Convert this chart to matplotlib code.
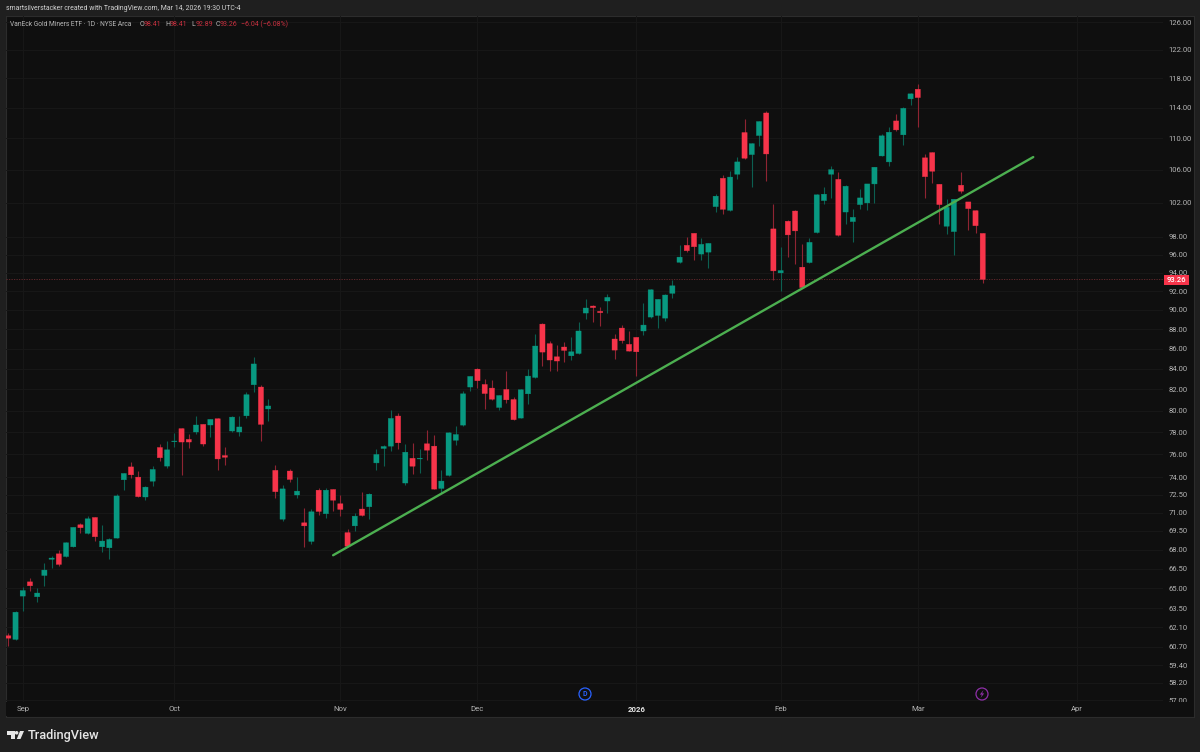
import matplotlib
matplotlib.use("Agg")
import matplotlib.pyplot as plt
from matplotlib.patches import Circle, Polygon, Rectangle
from matplotlib.ticker import NullLocator

plt.rcParams['font.family'] = ['Roboto', 'DejaVu Sans']

# --- daily candles ---
opens = [61.48, 61.22, 64.40, 65.48, 64.35, 65.97, 67.23, 67.66, 67.45, 68.22,
         70.00, 69.30, 70.60, 68.22, 68.14, 68.92, 73.78, 74.90, 74.01, 72.31,
         73.66, 76.62, 74.97, 77.14, 78.33, 77.35, 78.02, 78.72, 78.66, 79.24,
         75.90, 78.11, 78.02, 79.51, 82.45, 82.23, 80.15, 74.60, 70.46, 74.54,
         72.48, 70.16, 68.65, 72.89, 70.91, 72.95, 71.74, 69.36, 69.91, 71.30,
         71.49, 75.25, 76.53, 76.74, 79.49, 73.50, 75.66, 75.60, 76.95, 76.74,
         73.04, 74.16, 77.27, 78.65, 82.23, 83.97, 82.48, 82.13, 80.29, 82.00,
         81.04, 79.30, 81.58, 83.16, 88.51, 86.51, 85.19, 86.17, 85.29, 85.52,
         89.66, 90.40, 89.84, 90.93, 86.98, 88.10, 86.44, 87.15, 87.80, 89.24,
         89.41, 89.13, 91.75, 95.14, 97.05, 98.42, 96.06, 96.28, 101.54, 104.96,
         101.10, 105.46, 110.73, 107.91, 110.34, 113.29, 98.93, 93.97, 99.82, 101.02,
         94.60, 95.11, 98.51, 102.26, 105.46, 104.83, 100.90, 99.78, 101.78, 101.98,
         104.27, 107.74, 106.99, 112.24, 110.43, 115.17, 116.48, 107.50, 108.16, 104.23,
         99.24, 98.62, 104.11, 102.10, 101.06, 98.41]
highs = [61.65, 63.27, 65.07, 65.80, 64.98, 66.91, 67.48, 68.00, 68.62, 69.84,
         70.16, 70.76, 70.68, 69.97, 68.90, 72.56, 74.33, 75.30, 74.50, 73.24,
         74.94, 76.92, 77.20, 77.97, 78.36, 77.84, 79.50, 78.75, 79.21, 79.33,
         76.65, 79.48, 79.48, 81.76, 85.14, 82.42, 81.06, 75.03, 73.35, 74.70,
         74.04, 71.41, 71.27, 73.04, 73.09, 73.01, 72.46, 69.63, 70.93, 72.75,
         72.61, 76.50, 76.83, 80.02, 79.74, 76.89, 76.98, 76.50, 78.18, 77.73,
         74.67, 78.00, 78.55, 81.84, 83.32, 84.04, 82.97, 82.90, 81.48, 83.74,
         81.26, 82.07, 83.97, 87.44, 88.60, 86.78, 86.34, 86.68, 87.22, 88.72,
         91.11, 90.47, 90.26, 91.67, 87.49, 88.41, 87.76, 87.19, 90.68, 92.23,
         91.18, 91.64, 93.19, 97.05, 97.97, 98.46, 97.89, 97.35, 103.07, 105.37,
         105.87, 107.62, 112.50, 109.39, 112.24, 113.51, 101.90, 96.89, 100.01, 101.10,
         97.24, 97.93, 103.03, 103.87, 106.53, 105.79, 104.11, 101.22, 103.71, 104.31,
         106.41, 110.60, 111.51, 113.15, 114.09, 115.94, 117.20, 107.99, 108.24, 104.27,
         102.50, 102.50, 105.71, 102.14, 101.14, 98.41]
lows = [60.74, 61.17, 63.27, 64.75, 63.95, 65.15, 66.52, 66.70, 67.40, 68.17,
        69.30, 69.22, 68.70, 67.82, 67.25, 68.89, 72.87, 73.90, 72.31, 72.05,
        73.26, 75.44, 74.82, 76.65, 74.18, 76.60, 77.84, 76.75, 77.60, 74.60,
        75.08, 78.02, 77.66, 79.30, 81.76, 77.20, 79.04, 72.20, 70.33, 73.63,
        72.20, 68.19, 68.46, 70.77, 70.57, 71.16, 70.74, 68.24, 69.50, 70.71,
        70.49, 74.64, 74.99, 76.32, 76.47, 73.33, 74.24, 74.39, 75.55, 72.95,
        72.61, 74.10, 76.86, 78.58, 81.84, 82.13, 80.14, 80.98, 80.05, 80.73,
        79.12, 79.27, 80.60, 83.13, 84.28, 83.75, 83.75, 84.67, 84.87, 85.49,
        89.06, 88.72, 88.31, 89.70, 84.93, 86.61, 85.73, 83.29, 87.36, 89.10,
        88.14, 88.85, 91.29, 95.06, 96.24, 95.39, 95.36, 94.47, 100.94, 100.62,
        101.06, 104.87, 107.41, 103.95, 109.04, 104.67, 93.15, 92.00, 95.70, 95.00,
        92.34, 95.07, 98.47, 101.86, 102.54, 98.16, 99.55, 97.43, 101.30, 101.14,
        102.02, 107.70, 106.49, 110.99, 109.13, 114.37, 111.42, 102.62, 104.35, 99.55,
        98.31, 96.00, 103.19, 98.85, 98.43, 92.89]
closes = [61.31, 63.20, 64.82, 65.18, 64.63, 66.39, 67.33, 66.83, 68.54, 69.79,
          69.76, 70.49, 69.03, 68.68, 68.81, 72.40, 74.33, 74.21, 72.34, 73.15,
          74.68, 75.71, 76.41, 77.20, 77.11, 77.11, 78.66, 76.93, 79.18, 75.60,
          75.75, 79.39, 78.48, 81.50, 84.48, 78.72, 80.43, 72.76, 73.00, 73.81,
          72.81, 69.91, 71.07, 71.10, 72.89, 72.04, 71.27, 68.27, 70.71, 70.77,
          72.55, 76.00, 76.71, 79.27, 77.04, 76.20, 74.96, 75.66, 76.38, 72.98,
          73.67, 77.94, 77.79, 81.58, 83.26, 82.84, 81.61, 81.07, 81.42, 81.01,
          79.15, 81.97, 83.29, 86.27, 85.66, 84.87, 84.77, 85.83, 85.69, 87.80,
          90.19, 90.23, 89.70, 91.32, 85.86, 86.81, 85.76, 85.69, 88.41, 92.13,
          91.11, 91.57, 92.56, 95.72, 96.44, 96.89, 97.16, 97.27, 102.79, 101.22,
          105.11, 106.99, 107.45, 109.30, 112.16, 107.99, 94.19, 94.23, 98.24, 98.70,
          92.37, 97.39, 102.95, 103.03, 106.03, 98.20, 103.99, 100.28, 102.58, 104.27,
          106.33, 110.30, 110.77, 111.07, 113.91, 115.85, 115.35, 105.16, 105.83, 101.78,
          101.46, 102.42, 103.39, 101.30, 99.30, 93.26]

# trendline end points (bar number, price)
trend_x = [45, 142]
trend_y = [67.55, 107.6]

last_price = 93.26

price_ticks = [126, 122, 118, 114, 110, 106, 102, 98, 96, 94, 92, 90, 88, 86, 84, 82, 80,
               78, 76, 74, 72.5, 71, 69.5, 68, 66.5, 65, 63.5, 62.1, 60.7, 59.4, 58.2, 57]
month_pos = [2, 23, 46, 65, 87, 107, 126, 148]
month_labels = ["Sep", "Oct", "Nov", "Dec", "2026", "Feb", "Mar", "Apr"]

W, H = 1200, 752
BORDER = "#1f1f1f"
PANE = "#0f0f0f"
GRID = "#181818"
UP = "#089981"
DOWN = "#f7344a"
UP_WICK = "#0c5f51"
DOWN_WICK = "#8f2433"
AXIS_TEXT = "#b4b4b4"


def px_axes(left, top, right, bottom, **kw):
    return fig.add_axes([left / W, 1 - bottom / H, (right - left) / W, (bottom - top) / H], **kw)


def bar_at(px):
    return (px - 8.3) / 7.218


fig = plt.figure(figsize=(W / 100, H / 100), dpi=100, facecolor=BORDER)

# --- pane behind everything ---
pane = px_axes(6, 16, 1194, 717, facecolor=PANE, zorder=0)
pane.set_xticks([])
pane.set_yticks([])
for s in pane.spines.values():
    s.set_color("#2c2c2c")
    s.set_linewidth(0.8)

# --- price chart ---
ax = px_axes(6, 16, 1163, 702, zorder=1)
ax.patch.set_alpha(0)
ax.set_yscale("log")
ax.set_xlim(bar_at(6), bar_at(1163))
ax.set_ylim(56.9, 126.89)
ax.yaxis.set_minor_locator(NullLocator())
ax.set_yticks(price_ticks)
ax.set_yticklabels([f"{p:.2f}" for p in price_ticks], fontsize=5.5, color=AXIS_TEXT)
ax.yaxis.tick_right()
ax.tick_params(axis="y", length=0, pad=4)
ax.set_xticks(month_pos)
ax.tick_params(axis="x", length=0, labelbottom=False)
ax.grid(True, color=GRID, linewidth=0.7)
ax.set_axisbelow(True)
for s in ax.spines.values():
    s.set_visible(False)

# candles
for i in range(len(opens)):
    up = closes[i] >= opens[i]
    ax.vlines(i, lows[i], highs[i], color=UP_WICK if up else DOWN_WICK, linewidth=0.8, zorder=2)
    ax.bar(i, abs(closes[i] - opens[i]), bottom=min(opens[i], closes[i]), width=0.72,
           color=UP if up else DOWN, edgecolor=UP if up else DOWN, linewidth=0.25, snap=False, zorder=3)

# last price line and trendline
ax.axhline(last_price, color="#6b2a30", linewidth=0.6, linestyle=(0, (1.5, 1.5)), zorder=1.5)
ax.plot(trend_x, trend_y, color="#4caf50", linewidth=1.7, solid_capstyle="round", zorder=4)

# --- time axis strip, hides the bottom of the 57.00 label ---
tax = px_axes(6, 702, 1193, 716, facecolor=PANE, zorder=2)
tax.set_xlim(bar_at(6), bar_at(1193))
tax.set_ylim(0, 1)
tax.set_xticks([])
tax.set_yticks([])
for s in tax.spines.values():
    s.set_visible(False)
for pos, lab in zip(month_pos, month_labels):
    bold = lab == "2026"
    tax.text(pos, 0.5, lab, ha="center", va="center", fontsize=5.6,
             color="#e6e6e6" if bold else AXIS_TEXT, fontweight="bold" if bold else "normal")

# --- last price tag ---
fig.add_artist(Rectangle((1164, H - 284.5), 24.5, 9.5, transform=None, facecolor=DOWN, edgecolor="none", zorder=5))
fig.text(1176.2 / W, 1 - 280 / H, f"{last_price:.2f}", ha="center", va="center", fontsize=5.5,
         color="white", fontweight="medium", zorder=6)

# --- header ---
fig.text(6 / W, 1 - 8.5 / H, "smartsilverstacker created with TradingView.com, Mar 14, 2026 19:30 UTC-4",
         fontsize=4.98, color="#d2d2d2", va="center", zorder=6)
GREY = "#b8b8b8"
RED = "#c7303f"
fig.text(10 / W, 1 - 24 / H, "VanEck Gold Miners ETF · 1D · NYSE Arca", fontsize=4.75, color=GREY, va="center", zorder=6)
header_bits = [(140, "O", GREY), (144, "98.41", RED),
               (165.7, "H", GREY), (170, "98.41", RED),
               (191, "L", GREY), (195.7, "92.89", RED),
               (216, "C", GREY), (220, "93.26", RED),
               (241, "−6.04 (−6.08%)", RED)]
for x, txt, col in header_bits:
    fig.text(x / W, 1 - 24 / H, txt, fontsize=5.05, color=col, va="center", zorder=6)

# --- event markers ---
fig.add_artist(Circle((585, H - 694), 6, transform=None, facecolor="none", edgecolor="#2962ff", linewidth=0.9, zorder=6))
fig.text(585 / W, 1 - 694 / H, "D", fontsize=5, color="#2962ff", ha="center", va="center", fontweight="bold", zorder=6)
fig.add_artist(Circle((982, H - 694), 6, transform=None, facecolor="none", edgecolor="#8e2fa8", linewidth=0.9, zorder=6))
fig.add_artist(Polygon([(983.5, H - 690), (979.8, H - 694.6), (981.9, H - 694.6), (980.5, H - 698), (984.2, H - 693.4), (982.1, H - 693.4)],
                       closed=True, transform=None, facecolor="#8e2fa8", edgecolor="none", zorder=6))

# --- TradingView logo ---
LOGO = "#e6e6e6"
fig.add_artist(Polygon([(7, H - 731), (14.5, H - 731), (14.5, H - 739), (11, H - 739), (11, H - 734.5), (7, H - 734.5)],
                       closed=True, transform=None, facecolor=LOGO, edgecolor="none", zorder=6))
fig.add_artist(Circle((16.6, H - 732.8), 1.8, transform=None, facecolor=LOGO, edgecolor="none", zorder=6))
fig.add_artist(Polygon([(20, H - 731), (24, H - 731), (20.5, H - 739), (16.8, H - 739)],
                       closed=True, transform=None, facecolor=LOGO, edgecolor="none", zorder=6))
fig.text(28 / W, 1 - 735 / H, "TradingView", fontsize=9.2, color=LOGO, va="center", fontweight="medium", zorder=6)

fig.savefig("out.png", dpi=100, facecolor=fig.get_facecolor())
